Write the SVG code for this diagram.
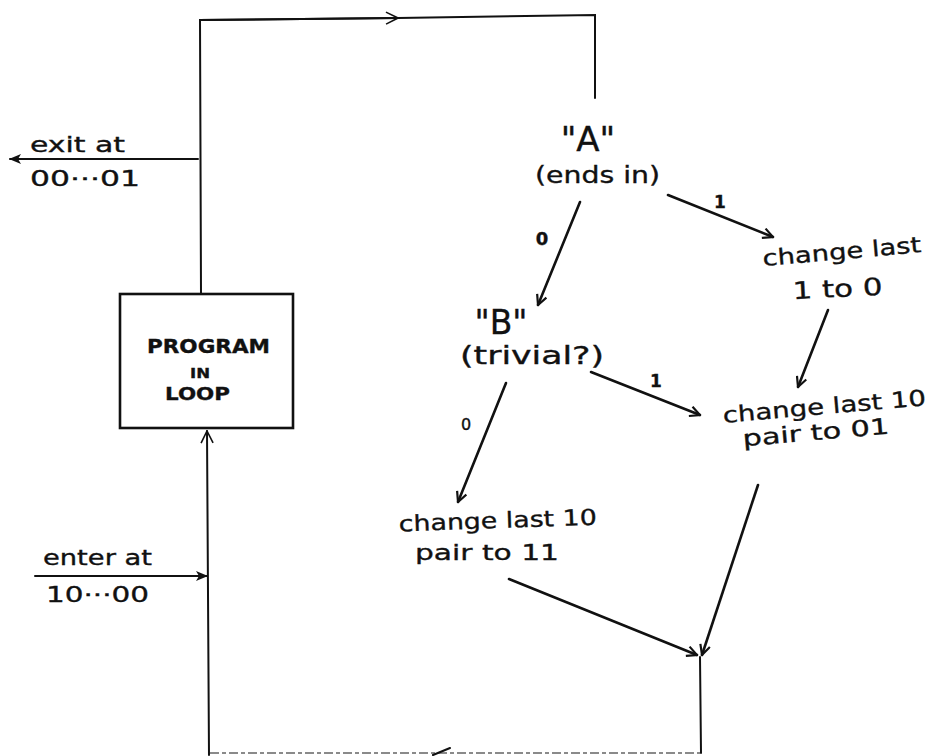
<svg xmlns="http://www.w3.org/2000/svg" width="929" height="756" viewBox="0 0 929 756">
<defs>
<style>
.t{font-family:"DejaVu Sans","Liberation Sans",sans-serif;fill:#111;stroke:#111;stroke-width:0.35;}
.m{text-anchor:middle;}
.ln{stroke:#111;stroke-width:2;fill:none;stroke-linecap:round;}
.ar{stroke:#111;stroke-width:2.6;fill:none;stroke-linecap:round;}
</style>
<marker id="v" viewBox="0 0 12 12" refX="11" refY="6" markerWidth="12" markerHeight="12" markerUnits="userSpaceOnUse" orient="auto">
<path d="M1,1 L11,6 L1,11" fill="none" stroke="#111" stroke-width="2.2"/>
</marker>
<marker id="vs" viewBox="0 0 14 14" refX="13" refY="7" markerWidth="14" markerHeight="14" markerUnits="userSpaceOnUse" orient="auto">
<path d="M1,1 L13,7 L1,13" fill="none" stroke="#111" stroke-width="1.6"/>
</marker>
<marker id="f" viewBox="0 0 12 10" refX="11" refY="5" markerWidth="12" markerHeight="10" markerUnits="userSpaceOnUse" orient="auto">
<path d="M0,0 L12,5 L0,10 L3,5 Z" fill="#111"/>
</marker>
</defs>
<rect width="929" height="756" fill="#fff"/>
<g id="connectors">
<path class="ln" d="M201,294 L200,20 L398,18"/>
<path class="ln" d="M200,20 L398,18" marker-end="url(#vs)"/>
<path class="ln" d="M398,18 L595,15 L595,98"/>
<path class="ln" d="M198,159 L10,159" marker-end="url(#f)"/>
<path class="ln" d="M209,755 L207,431" marker-end="url(#vs)"/>
<path class="ln" d="M35,576 L207,576" marker-end="url(#f)"/>
<path d="M210,753 L700,753" stroke="#8a8a8a" stroke-width="2" stroke-dasharray="9 3 4 3" fill="none"/>
<path class="ln" d="M450,748 L433,755"/>
<path class="ln" d="M700,657 L701,753"/>
<path class="ar" d="M668,195 L773,237" marker-end="url(#v)"/>
<path class="ar" d="M580,202 L538,305" marker-end="url(#v)"/>
<path class="ar" d="M828,310 L798,387" marker-end="url(#v)"/>
<path class="ar" d="M591,372 L700,415" marker-end="url(#v)"/>
<path class="ar" d="M506,383 L458,502" marker-end="url(#v)"/>
<path class="ar" d="M509,579 L697,655" marker-end="url(#v)"/>
<path class="ar" d="M758,485 L702,655" marker-end="url(#v)"/>
</g>
<g id="exit">
<text class="t" x="30" y="152" font-size="21" textLength="95" lengthAdjust="spacingAndGlyphs">exit at</text>
<text class="t" x="30" y="186" font-size="22" textLength="110" lengthAdjust="spacingAndGlyphs">00···01</text>
</g>
<g id="enter">
<text class="t" x="43" y="565" font-size="21" textLength="109" lengthAdjust="spacingAndGlyphs">enter at</text>
<text class="t" x="46" y="602" font-size="21" textLength="103" lengthAdjust="spacingAndGlyphs">10···00</text>
</g>
<g id="program">
<rect x="120" y="294" width="173" height="134" fill="none" stroke="#111" stroke-width="2.6"/>
<text class="t" x="147" y="353" font-size="19" font-weight="bold" textLength="123" lengthAdjust="spacingAndGlyphs">PROGRAM</text>
<text class="t" x="190" y="378" font-size="14" font-weight="bold" textLength="20" lengthAdjust="spacingAndGlyphs">IN</text>
<text class="t" x="165" y="400" font-size="18" font-weight="bold" textLength="65" lengthAdjust="spacingAndGlyphs">LOOP</text>
</g>
<g id="A">
<text class="t m" x="588" y="151" font-size="34">"A"</text>
<text class="t" x="535" y="183" font-size="23" textLength="125" lengthAdjust="spacingAndGlyphs">(ends in)</text>
</g>
<g id="B">
<text class="t m" x="501" y="334" font-size="33">"B"</text>
<text class="t" x="460" y="364" font-size="24" textLength="144" lengthAdjust="spacingAndGlyphs">(trivial?)</text>
</g>
<g id="c10">
<text class="t" x="763" y="259" font-size="22" textLength="159" lengthAdjust="spacingAndGlyphs" transform="rotate(-5 843 259)">change last</text>
<text class="t" x="793" y="297" font-size="24" textLength="90" lengthAdjust="spacingAndGlyphs" transform="rotate(-3 838 297)">1 to 0</text>
</g>
<g id="c01">
<text class="t" x="723" y="414" font-size="22" textLength="204" lengthAdjust="spacingAndGlyphs" transform="rotate(-5 825 414)">change last 10</text>
<text class="t" x="743" y="440" font-size="22" textLength="147" lengthAdjust="spacingAndGlyphs" transform="rotate(-5 816 440)">pair to 01</text>
</g>
<g id="c11">
<text class="t" x="399" y="528" font-size="22" textLength="198" lengthAdjust="spacingAndGlyphs" transform="rotate(-2 498 528)">change last 10</text>
<text class="t" x="415" y="560" font-size="22" textLength="144" lengthAdjust="spacingAndGlyphs">pair to 11</text>
</g>
<g id="labels">
<text class="t m" x="720" y="208" font-size="17" font-weight="bold">1</text>
<text class="t m" x="542" y="245" font-size="18" font-weight="bold">0</text>
<text class="t m" x="656" y="387" font-size="17" font-weight="bold">1</text>
<text class="t m" x="466" y="430" font-size="16">0</text>
</g>
</svg>
